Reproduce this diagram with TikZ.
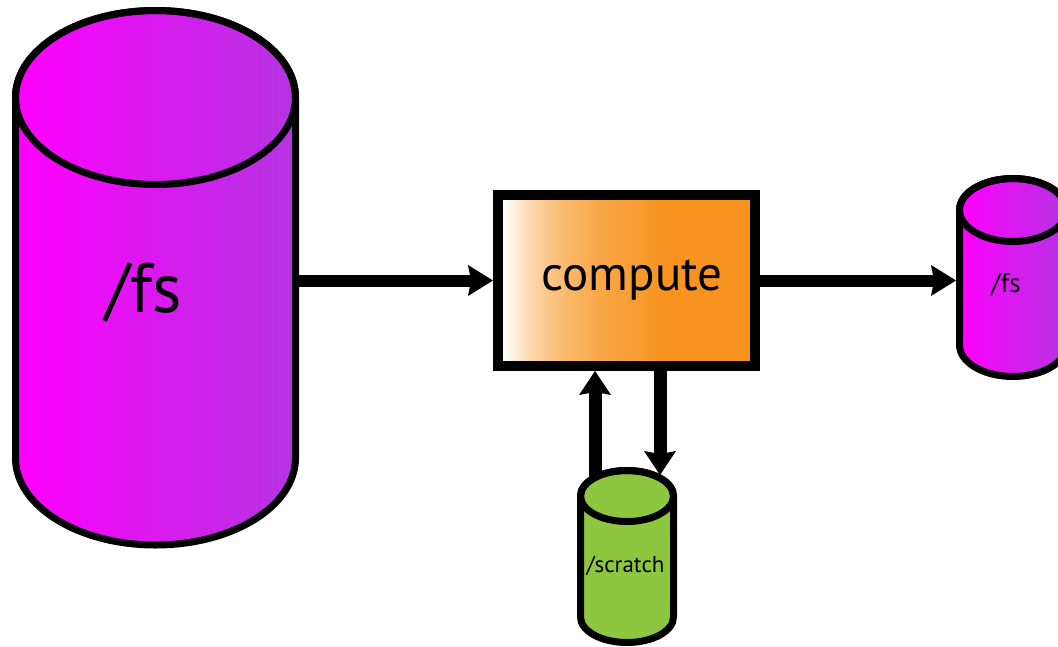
\documentclass[tikz,border=0pt]{standalone}
\usepackage{fontspec}
\setmainfont{PT Sans}
\usetikzlibrary{arrows.meta}

\definecolor{fsleft}{RGB}{255,0,255}
\definecolor{fsright}{RGB}{180,52,224}
\definecolor{cmporange}{RGB}{247,147,30}
\definecolor{scratchgreen}{RGB}{141,198,63}

% white-to-orange fade of the compute box (25bp..75bp spans the box)
\pgfdeclarehorizontalshading{computefade}{100bp}{%
  color(0bp)=(white); color(26bp)=(white);
  color(32bp)=(cmporange!40); color(38bp)=(cmporange!65);
  color(45bp)=(cmporange!82); color(58bp)=(cmporange);
  color(100bp)=(cmporange)}

% upright cylinder: centre x, top-ellipse y, bottom-ellipse y, x radius, y radius, fill
\newcommand\drumshape[6]{%
  \path[cylbody,#6] (#1-#4,#2) -- (#1-#4,#3)
    arc[start angle=180,end angle=0,x radius=#4,y radius=#5]
    -- (#1+#4,#2)
    arc[start angle=0,end angle=-180,x radius=#4,y radius=#5] -- cycle;
  \draw[cylline] (#1,#2) ellipse[x radius=#4,y radius=#5];
}

\tikzset{
  cylbody/.style={draw=black,line width=7pt,line join=round},
  cylline/.style={draw=black,line width=7pt},
  purplefill/.style={left color=fsleft,right color=fsright},
  greenfill/.style={fill=scratchgreen},
  frame/.style={rectangle,draw=none,inner sep=0pt,outer sep=0pt},
  computebox/.style={rectangle,draw=black,line width=10pt,shade,shading=computefade,
    minimum width=257pt,minimum height=171pt,inner sep=0pt},
  flowh/.style={line width=12pt,
    -{Stealth[length=25pt,width=31pt,inset=3pt,line width=0pt]}},
  flowv/.style={line width=13pt,
    -{Stealth[length=24pt,width=32pt,inset=3pt,line width=0pt]}},
  lbl/.style={anchor=base,inner sep=0pt,text=black},
}

\begin{document}
\begin{tikzpicture}[x=1pt,y=-1pt]
\useasboundingbox (0,0) rectangle (1058,646);
\clip (0,0) rectangle (1058,646);

% storage outlines (used as connector anchors)
\node[frame,minimum width=287pt,minimum height=541pt] (bigfs) at (155.5,277.5) {};
\node[frame,minimum width=114pt,minimum height=205pt] (smallfs) at (1013,277.5) {};
\node[frame,minimum width=100pt,minimum height=179pt] (scratch) at (627,556.5) {};
\coordinate (scratchup) at (595,492);
\coordinate (scratchdown) at (660,475);

% compute node
\node[computebox] (compute) at (626.5,280.5) {};

% data flow
\draw[flowh] (bigfs.east |- compute.west) -- (compute.west);
\draw[flowh] (compute.east) -- (smallfs.west |- compute.east);
\draw[flowv] (scratchup) -- (compute.south -| scratchup);
\draw[flowv] (compute.south -| scratchdown) -- (scratchdown);

% storage drums
\drumshape{155.5}{97.5}{458}{140}{87}{purplefill}
\drumshape{1013}{210}{345}{53.5}{31.5}{purplefill}
\drumshape{627}{496}{617}{46.5}{25.5}{greenfill}

% labels
\node[lbl,font=\fontsize{70}{80}\selectfont] (bigfslabel) at (144,312) {/fs};
\node[lbl,font=\fontsize{49}{58}\selectfont] (computelabel) at (632,290) {compute};
\node[lbl,font=\fontsize{27}{32}\selectfont] (smallfslabel) at (1006,292) {/fs};
\node[lbl,font=\fontsize{23}{28}\selectfont] (scratchlabel) at (625.5,572) {/scratch};
\end{tikzpicture}
\end{document}
